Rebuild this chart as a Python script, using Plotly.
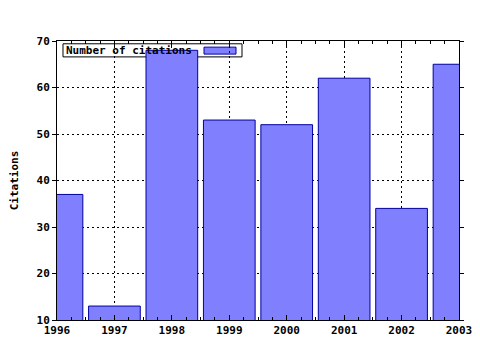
import plotly.graph_objects as go

years = [1996, 1997, 1998, 1999, 2000, 2001, 2002, 2003]
citations = [37, 13, 68, 53, 52, 62, 34, 65]
series_name = "Number of citations"
y_ticks = [10, 20, 30, 40, 50, 60, 70]

font_mono = "DejaVu Sans Mono"
bar_fill = "#8080ff"
bar_edge = "#0000a0"
grid_dash = "2px,3px"

fig = go.Figure()
fig.add_trace(go.Bar(
    x=years, y=citations, name=series_name, width=0.9,
    marker=dict(color=bar_fill, line=dict(color=bar_edge, width=1)),
    showlegend=False,
))

# legend drawn behind the bars, as in the reference
fig.add_shape(type="rect", xref="paper", yref="paper",
              x0=0.0149, x1=0.4602, y0=0.943, y1=0.990,
              line=dict(color="black", width=1), fillcolor="white", layer="below")
fig.add_shape(type="rect", xref="paper", yref="paper",
              x0=0.3657, x1=0.4453, y0=0.953, y1=0.978,
              line=dict(color=bar_edge, width=1), fillcolor=bar_fill, layer="below")
fig.add_annotation(xref="paper", yref="paper", x=0.0174, y=0.9665,
                   xanchor="left", yanchor="middle", showarrow=False,
                   text=series_name,
                   font=dict(family=font_mono, size=11, color="black", weight="bold"))

fig.update_layout(
    width=480, height=350,
    margin=dict(l=57, r=21, t=41, b=30),
    paper_bgcolor="white", plot_bgcolor="white",
    font=dict(family=font_mono, size=11, color="black"),
    showlegend=False,
    bargap=0.1,
)
fig.update_xaxes(
    range=[1996, 2003], tickvals=years, ticktext=[str(y) for y in years],
    showline=True, linecolor="black", linewidth=1, mirror="ticks",
    ticks="inside", ticklen=5, tickcolor="black",
    minor=dict(ticks="inside", ticklen=3, dtick=0.25, tickcolor="black", showgrid=False),
    showgrid=True, gridcolor="black", griddash=grid_dash, gridwidth=1,
    tickfont=dict(family=font_mono, size=11, weight="bold"), zeroline=False,
    automargin=False,
)
fig.update_yaxes(
    range=[10, 70], tickvals=y_ticks,
    showline=True, linecolor="black", linewidth=1, mirror="ticks",
    ticks="outside", ticklen=4, tickcolor="black",
    showgrid=True, gridcolor="black", griddash=grid_dash, gridwidth=1,
    tickfont=dict(family=font_mono, size=11, weight="bold"), zeroline=False,
    title=dict(text="Citations", font=dict(family=font_mono, size=11, weight="bold"), standoff=15),
    automargin=False,
)

fig.write_html("out.html")
